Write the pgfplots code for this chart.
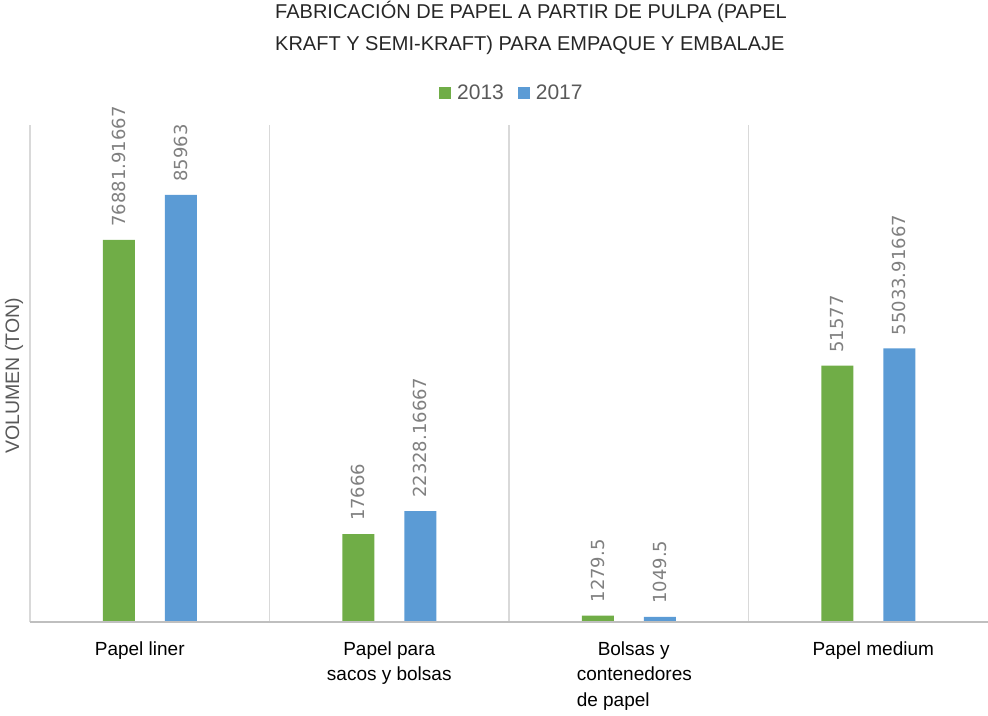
\documentclass[border=0pt]{standalone}
\usepackage{pgfplots}
\pgfplotsset{compat=1.18}
\usepackage{fontspec}
\setmainfont{Liberation Sans}
\newfontfamily\dejavu{DejaVu Sans}
\definecolor{cgreen}{HTML}{70AD47}
\definecolor{cblue}{HTML}{5B9BD5}
\definecolor{cgrid}{HTML}{D9D9D9}
\definecolor{cbase}{HTML}{BFBFBF}
\definecolor{ctext}{HTML}{595959}
\definecolor{clabel}{HTML}{808080}
\definecolor{ctitle}{HTML}{262626}
\begin{document}
\begin{tikzpicture}
\path[use as bounding box] (0,0) rectangle (988pt,715pt);
\begin{axis}[
  at={(30pt,93pt)}, anchor=south west,
  scale only axis, width=958pt, height=497pt,
  xmin=-0.5, xmax=3.5, ymin=0, ymax=100000,
  ybar=0pt, bar width=32pt,
  axis line style={draw=none},
  ytick=\empty,
  xtick={0,1,2,3},
  xticklabels={\hspace*{-20pt}Papel liner,{Papel para\\sacos y bolsas},{\hspace*{15pt}\makebox[119pt][l]{\hspace{21pt}Bolsas y}\\\hspace*{15pt}\makebox[119pt][l]{contenedores}\\\hspace*{15pt}\makebox[119pt][l]{de papel}},\hspace*{10pt}Papel medium},
  xticklabel style={align=center, font=\fontsize{19}{25.5}\selectfont, text=black, yshift=-16pt},
  major tick length=0pt,
  extra x ticks={-0.5,0.5,1.5,2.5},
  extra x tick labels={},
  extra x tick style={grid=major, major grid style={cgrid, line width=1.5pt}},
  nodes near coords,
  point meta=explicit symbolic,
  nodes near coords style={rotate=90, anchor=west, font=\dejavu\fontsize{18}{18}\selectfont, text=clabel, inner xsep=13pt, inner ysep=0pt},
  legend columns=2,
  legend style={at={(0.503,1.064)}, anchor=center, draw=none, fill=none, font=\fontsize{21}{21}\selectfont, text=ctext,
    /tikz/every even column/.append style={column sep=12pt},
    /tikz/every odd column/.append style={column sep=4pt}},
  legend image code/.code={\fill[#1] (0pt,-6pt) rectangle (12pt,6pt);},
  clip=false,
]
\addplot[fill=cgreen, draw=none, bar shift=-31pt] coordinates {
  (0,76881.91667)[76881.91667]
  (1,17666)[17666]
  (2,1279.5)[1279.5]
  (3,51577)[51577]
};
\addlegendentry{2013}
\addplot[fill=cblue, draw=none, bar shift=31pt] coordinates {
  (0,85963)[85963]
  (1,22328.16667)[22328.16667]
  (2,1049.5)[1049.5]
  (3,55033.91667)[55033.91667]
};
\addlegendentry{2017}
\draw[cbase, line width=2pt] (axis cs:-0.5,0) -- (axis cs:3.5,0);
\end{axis}
\node[anchor=base west, font=\fontsize{20}{20}\selectfont, text=ctitle, inner sep=0pt] at (275pt,696.5pt) {FABRICACIÓN DE PAPEL A PARTIR DE PULPA (PAPEL};
\node[anchor=base west, font=\fontsize{20}{20}\selectfont, text=ctitle, inner sep=0pt] at (275pt,664pt) {KRAFT Y SEMI-KRAFT) PARA EMPAQUE Y EMBALAJE};
\node[rotate=90, anchor=center, font=\fontsize{19.5}{20}\selectfont, text=ctext, inner sep=0pt] at (14pt,339pt) {VOLUMEN (TON)};
\end{tikzpicture}
\end{document}
